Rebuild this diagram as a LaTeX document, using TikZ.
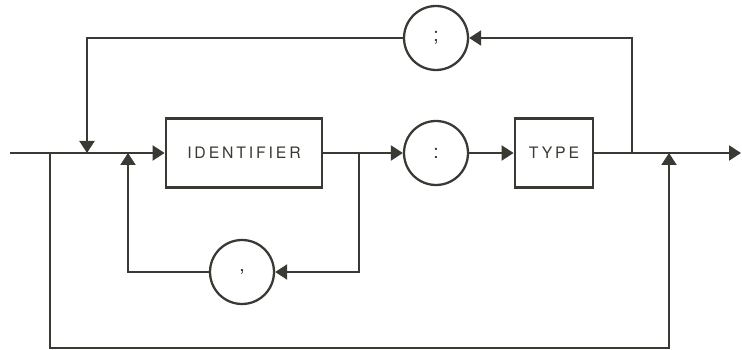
\documentclass[tikz,border=0pt]{standalone}
\usepackage{fontspec}
\setmainfont{TeX Gyre Heros}
\newfontfamily\railfont[LetterSpace=18]{TeX Gyre Heros}
\usetikzlibrary{arrows.meta, positioning}
\definecolor{inkgray}{RGB}{58,58,52}
\tikzset{
x=0.02cm, y=-0.02cm, % one unit per pixel, y running downwards
>={Triangle[length=0.24cm, width=0.3cm]}, % filled heads on the rails
every path/.append style={line width=1.2pt},
terminal/.style={rectangle, draw, line width=1.6pt, minimum height=1.38cm, inner sep=0pt, font=\railfont\fontsize{9}{10}\selectfont}, % boxed words
symbol/.style={circle, draw, line width=1.3pt, minimum size=1.28cm, inner sep=0pt, font=\railfont\fontsize{11}{13}\selectfont}, % round punctuation
}

\begin{document}
\begin{tikzpicture}[color=inkgray]
      \useasboundingbox (0,0) rectangle (742,350);

      % main line
      \node[terminal, minimum width=3.12cm] (ident) at (244,153) {IDENTIFIER};
      \node[symbol] (colon) at (436,153) {:};
      \node[terminal, minimum width=1.56cm] (type) at (554,153) {TYPE};
      % loop separators
      \node[symbol] (semi) at (436,38) {;};
      \node[symbol] (comma) at (242,272) {,};

      \coordinate (start) at (10,153);
      \coordinate (skip) at (50,153);
      \coordinate (back) at (87,153);
      \coordinate (more) at (128,153);
      \coordinate (split) at (359,153);
      \coordinate (again) at (632,153);
      \coordinate (join) at (669,153);
      \coordinate (stop) at (741,153);
      \coordinate (low) at (50,348);

      \draw[->] (start) -- (ident);
      \draw[->] (ident) -- (colon);
      \draw[->] (colon) -- (type);
      \draw[->] (type) -- (stop);

      \draw[->] (again) |- (semi);
      \draw[->] (semi) -| (back);
      \draw[->] (split) |- (comma);
      \draw[->] (comma) -| (more);
      \draw[->] (skip) -- (low) -| (join);
    \end{tikzpicture}
\end{document}
